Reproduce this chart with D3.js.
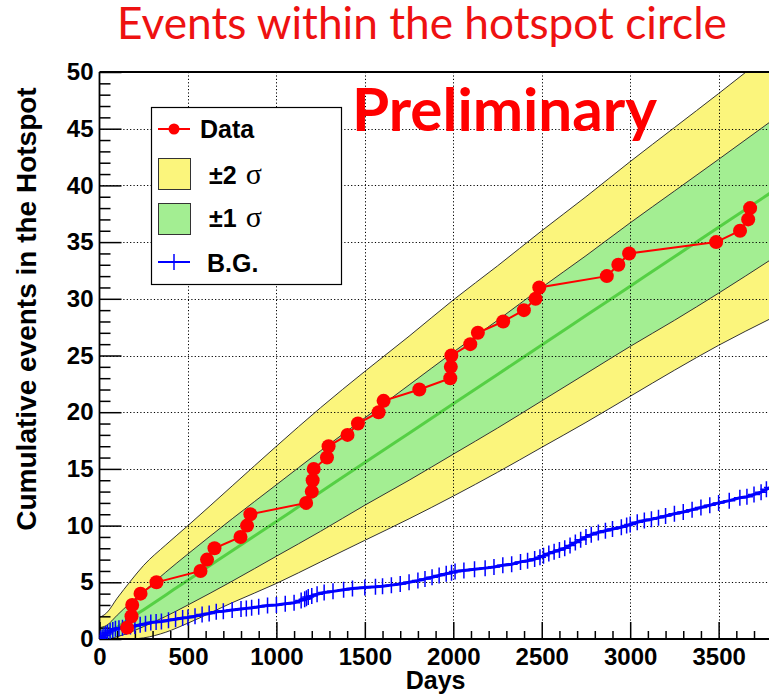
<!DOCTYPE html>
<html>
<head>
<meta charset="utf-8">
<script src="https://cdn.jsdelivr.net/npm/d3@7/dist/d3.min.js"></script>
<style>
  html, body { margin: 0; padding: 0; background: #fff; }
  svg { display: block; }
</style>
</head>
<body>
<svg id="chart" width="769" height="698"></svg>
<script>
// ---- Observed events: day of arrival and cumulative count ----
const dataDays = [156, 181, 185, 232, 322, 571, 608, 650, 797, 834, 853, 1168, 1200, 1205, 1211,
  1286, 1295, 1402, 1461, 1578, 1606, 1808, 1983, 1986, 1989, 2096, 2139, 2282, 2399, 2465,
  2486, 2868, 2933, 2994, 3486, 3621, 3667, 3678];
const dataCounts = [1, 2, 3, 4, 5, 6, 7, 8, 9, 10, 11, 12, 13, 14, 15, 16, 17, 18, 19, 20,
  21, 22, 23, 24, 25, 26, 27, 28, 29, 30, 31, 32, 33, 34, 35, 36, 37, 38];

// ---- Expected signal+background with 1 and 2 sigma bands ----
const bandDays = [0, 40, 100, 175, 250, 375, 500, 750, 1000, 1250, 1500, 1750, 2000, 2250,
  2500, 2750, 3000, 3250, 3500, 3800];
const meanVals = [0, 0.41, 1.04, 1.81, 2.59, 3.89, 5.19, 7.78, 10.37, 12.96, 15.56, 18.15,
  20.74, 23.33, 25.93, 28.52, 31.11, 33.70, 36.30, 39.41];
const up1Vals = [1.0, 1.2, 2.1, 3.2, 4.2, 5.9, 7.5, 10.6, 13.6, 16.6, 19.5, 22.4, 25.3, 28.1,
  31.0, 33.8, 36.7, 39.5, 42.3, 45.7];
const up2Vals = [1.9, 2.3, 3.6, 5.1, 6.5, 8.3, 10.0, 13.5, 17.0, 20.4, 23.6, 26.7, 29.9, 32.9,
  36.0, 39.0, 42.1, 45.1, 48.1, 51.8];
const lo1Vals = [0, 0, 0.2, 0.6, 1.1, 2.0, 3.0, 5.1, 7.3, 9.5, 11.8, 14.0, 16.3, 18.6, 21.0,
  23.4, 25.8, 28.1, 30.5, 33.5];
const lo2Vals = [0, 0, 0, 0, 0.1, 0.6, 1.4, 3.2, 4.9, 6.8, 8.7, 10.6, 12.6, 14.7, 16.9, 19.1,
  21.4, 23.7, 25.9, 28.3];

// ---- Cumulative background expectation ----
const bgDays = [5, 15, 25, 35, 45, 60, 75, 90, 110, 130, 150, 175, 200, 230, 260, 290, 320, 350,
  390, 430, 470, 500, 540, 580, 620, 660, 700, 750, 800, 830, 860, 900, 950, 1000, 1050, 1100,
  1140, 1160, 1170, 1180, 1200, 1230, 1270, 1320, 1380, 1430, 1500, 1560, 1600, 1650, 1700,
  1750, 1800, 1840, 1880, 1920, 1960, 1990, 2010, 2060, 2120, 2180, 2230, 2280, 2330, 2380,
  2420, 2460, 2490, 2510, 2540, 2570, 2600, 2630, 2660, 2690, 2720, 2750, 2780, 2820, 2860,
  2900, 2950, 2980, 3000, 3040, 3080, 3120, 3160, 3200, 3250, 3300, 3350, 3400, 3450, 3500,
  3560, 3620, 3660, 3700, 3740, 3770, 3790];
const bgVals = [0.05, 0.15, 0.3, 0.45, 0.55, 0.7, 0.8, 0.9, 0.95, 1.0, 1.05, 1.1, 1.15, 1.25,
  1.35, 1.45, 1.5, 1.55, 1.65, 1.75, 1.85, 1.9, 2.0, 2.15, 2.25, 2.4, 2.45, 2.55, 2.65, 2.7,
  2.75, 2.85, 2.95, 3.0, 3.1, 3.2, 3.4, 3.5, 3.6, 3.7, 3.8, 3.95, 4.1, 4.2, 4.35, 4.45, 4.55,
  4.6, 4.65, 4.75, 4.85, 5.0, 5.15, 5.3, 5.45, 5.6, 5.75, 5.85, 5.95, 6.05, 6.15, 6.25, 6.35,
  6.5, 6.6, 6.8, 6.9, 7.05, 7.2, 7.35, 7.55, 7.7, 7.85, 8.0, 8.25, 8.5, 8.75, 9.0, 9.2, 9.4,
  9.55, 9.7, 9.85, 10.0, 10.1, 10.3, 10.45, 10.55, 10.7, 10.85, 11.05, 11.2, 11.4, 11.6, 11.8,
  12.0, 12.2, 12.45, 12.55, 12.75, 12.95, 13.2, 13.35];

// ---- Axis ticks ----
const xMajorTicks = [0, 500, 1000, 1500, 2000, 2500, 3000, 3500];
const yMajorTicks = [0, 5, 10, 15, 20, 25, 30, 35, 40, 45, 50];

const titleText = "Events within the hotspot circle";
const stampText = "Preliminary";
const xTitle = "Days";
const yTitle = "Cumulative events in the Hotspot";
const legendLabels = ["Data", "\u00b12", "\u00b11", "B.G."];

// ---------------------------------------------------------------
const svg = d3.select("#chart");
const frame = { left: 99.5, right: 771.7, top: 72, bottom: 639 };

const x = d3.scaleLinear().domain([0, 3800]).range([frame.left, frame.right]);
const y = d3.scaleLinear().domain([0, 50]).range([frame.bottom, frame.top]);

const RED = "#ff0000", BLUE = "#0000ff";
const FILL2 = "#fbf57c", FILL1 = "#a3ee92";
const axisFont = "'Liberation Sans', Arial, Helvetica, sans-serif";

const defs = svg.append("defs");
defs.append("clipPath").attr("id", "plotClip").append("rect")
  .attr("x", frame.left).attr("y", frame.top)
  .attr("width", frame.right - frame.left).attr("height", frame.bottom - frame.top);

const band = bandDays.map((d, i) => ({
  d, m: meanVals[i], u1: up1Vals[i], u2: up2Vals[i], l1: lo1Vals[i], l2: lo2Vals[i]
}));

const plot = svg.append("g").attr("clip-path", "url(#plotClip)");

const area = (lo, hi) => d3.area().curve(d3.curveMonotoneX)
  .x(p => x(p.d)).y0(p => y(p[lo])).y1(p => y(p[hi]));
const line = key => d3.line().curve(d3.curveMonotoneX).x(p => x(p.d)).y(p => y(p[key]));

plot.append("path").datum(band).attr("d", area("l2", "u2")).attr("fill", FILL2);
plot.append("path").datum(band).attr("d", area("l1", "u1")).attr("fill", FILL1);
["u2", "u1", "l1", "l2"].forEach(k => {
  plot.append("path").datum(band).attr("d", line(k))
    .attr("fill", "none").attr("stroke", "#333").attr("stroke-width", 1);
});
plot.append("path").datum(band).attr("d", line("m"))
  .attr("fill", "none").attr("stroke", "#55d044").attr("stroke-width", 3);

// dotted grid
const grid = svg.append("g").attr("stroke", "#000").attr("stroke-width", 1)
  .attr("stroke-dasharray", "1.2,2.2");
grid.selectAll("line.gx").data(xMajorTicks.filter(t => t > 0)).join("line")
  .attr("x1", d => Math.round(x(d)) + 0.5).attr("x2", d => Math.round(x(d)) + 0.5)
  .attr("y1", frame.top).attr("y2", frame.bottom);
grid.selectAll("line.gy").data(yMajorTicks.filter(t => t > 0 && t < 50)).join("line")
  .attr("y1", d => Math.round(y(d)) + 0.5).attr("y2", d => Math.round(y(d)) + 0.5)
  .attr("x1", frame.left).attr("x2", frame.right);

// axes with inward ticks
const yMinor = d3.range(0, 51, 1).filter(v => v % 5 !== 0);
const xMinor = d3.range(0, 3801, 100).filter(v => v % 500 !== 0);

const gy = svg.append("g").attr("transform", `translate(${frame.left},0)`);
gy.call(d3.axisLeft(y).tickValues(yMajorTicks).tickSize(-22).tickPadding(6).tickFormat(d3.format("d")));
gy.append("g").call(d3.axisLeft(y).tickValues(yMinor).tickSize(-11).tickFormat(""));
const gx = svg.append("g").attr("transform", `translate(0,${frame.bottom})`);
gx.call(d3.axisBottom(x).tickValues(xMajorTicks).tickSize(-17).tickPadding(9).tickFormat(d3.format("d")));
gx.append("g").call(d3.axisBottom(x).tickValues(xMinor).tickSize(-8).tickFormat(""));

svg.selectAll(".domain").remove();
svg.selectAll(".tick line").attr("stroke", "#000").attr("stroke-width", 1.5);
svg.selectAll(".tick text").attr("font-family", axisFont).attr("font-weight", "bold")
  .attr("font-size", 24).attr("fill", "#000");

// frame
const fr = svg.append("g").attr("stroke", "#000").attr("stroke-width", 1.8).attr("fill", "none");
fr.append("line").attr("x1", frame.left).attr("x2", frame.left).attr("y1", frame.top).attr("y2", frame.bottom);
fr.append("line").attr("x1", frame.left).attr("x2", frame.right).attr("y1", frame.bottom).attr("y2", frame.bottom);
fr.append("line").attr("x1", frame.left).attr("x2", frame.right).attr("y1", frame.top).attr("y2", frame.top);

// background curve with + markers
const bg = bgDays.map((d, i) => ({ d, v: bgVals[i] }));
const marks = svg.append("g").attr("clip-path", "url(#plotClip)");
marks.append("path").datum(bg)
  .attr("d", d3.line().x(p => x(p.d)).y(p => y(p.v)))
  .attr("fill", "none").attr("stroke", BLUE).attr("stroke-width", 3);
marks.selectAll("path.bgm").data(bg).join("path")
  .attr("d", p => `M${x(p.d) - 6},${y(p.v)}H${x(p.d) + 6}M${x(p.d)},${y(p.v) - 8}V${y(p.v) + 8}`)
  .attr("stroke", BLUE).attr("stroke-width", 1.5).attr("fill", "none");

// observed data
const obs = dataDays.map((d, i) => ({ d, v: dataCounts[i] }));
marks.append("path").datum(obs)
  .attr("d", d3.line().x(p => x(p.d)).y(p => y(p.v)))
  .attr("fill", "none").attr("stroke", RED).attr("stroke-width", 2);
marks.selectAll("circle.obs").data(obs).join("circle")
  .attr("cx", p => x(p.d)).attr("cy", p => y(p.v)).attr("r", 7).attr("fill", RED);

// axis titles
svg.append("text").attr("x", (frame.left + frame.right) / 2).attr("y", 689)
  .attr("text-anchor", "middle").attr("font-family", axisFont).attr("font-weight", "bold")
  .attr("font-size", 25).text(xTitle);
svg.append("text").attr("transform", "translate(36,309) rotate(-90)")
  .attr("text-anchor", "middle").attr("font-family", axisFont).attr("font-weight", "bold")
  .attr("font-size", 28).text(yTitle);

// legend
const lg = svg.append("g").attr("font-family", axisFont).attr("font-weight", "bold").attr("font-size", 25);
lg.append("rect").attr("x", 151.5).attr("y", 107.5).attr("width", 190).attr("height", 177)
  .attr("fill", "#fff").attr("stroke", "#000").attr("stroke-width", 1.2);
lg.append("line").attr("x1", 158).attr("x2", 190).attr("y1", 129).attr("y2", 129)
  .attr("stroke", RED).attr("stroke-width", 2);
lg.append("circle").attr("cx", 174).attr("cy", 129).attr("r", 5.5).attr("fill", RED);
lg.append("text").attr("x", 200).attr("y", 138).text(legendLabels[0]);

lg.append("rect").attr("x", 158.5).attr("y", 158.5).attr("width", 32).attr("height", 31)
  .attr("fill", FILL2).attr("stroke", "#333").attr("stroke-width", 1);
lg.append("rect").attr("x", 158.5).attr("y", 203.5).attr("width", 32).attr("height", 31)
  .attr("fill", FILL1).attr("stroke", "#333").attr("stroke-width", 1);
[[legendLabels[1], 184], [legendLabels[2], 227]].forEach(([t, by]) => {
  const tx = lg.append("text").attr("x", 209).attr("y", by);
  tx.append("tspan").text(t);
  tx.append("tspan").attr("dx", 9).attr("font-family", "'Liberation Serif', 'DejaVu Serif', serif")
    .attr("font-weight", "normal").attr("font-size", 30).text("\u03c3");
});

lg.append("line").attr("x1", 158).attr("x2", 190).attr("y1", 262).attr("y2", 262)
  .attr("stroke", BLUE).attr("stroke-width", 2);
lg.append("line").attr("x1", 174).attr("x2", 174).attr("y1", 254).attr("y2", 270)
  .attr("stroke", BLUE).attr("stroke-width", 1.5);
lg.append("text").attr("x", 207).attr("y", 272).text(legendLabels[3]);

// red headings, sized to their extents
function fitText(txt, cx, by, width, weight, family, color) {
  const t = svg.append("text").attr("x", cx).attr("y", by).attr("text-anchor", "middle")
    .attr("font-family", family).attr("font-weight", weight).attr("fill", color)
    .attr("font-size", 40).text(txt);
  const w = t.node().getComputedTextLength();
  t.attr("font-size", 40 * width / w);
  return t;
}
fitText(titleText, 422, 39, 610, "normal", "Lato, 'Open Sans', sans-serif", "#ee1111");
fitText(stampText, 504.5, 131, 305, "bold", "Lato, 'Open Sans', sans-serif", RED);
</script>
</body>
</html>
